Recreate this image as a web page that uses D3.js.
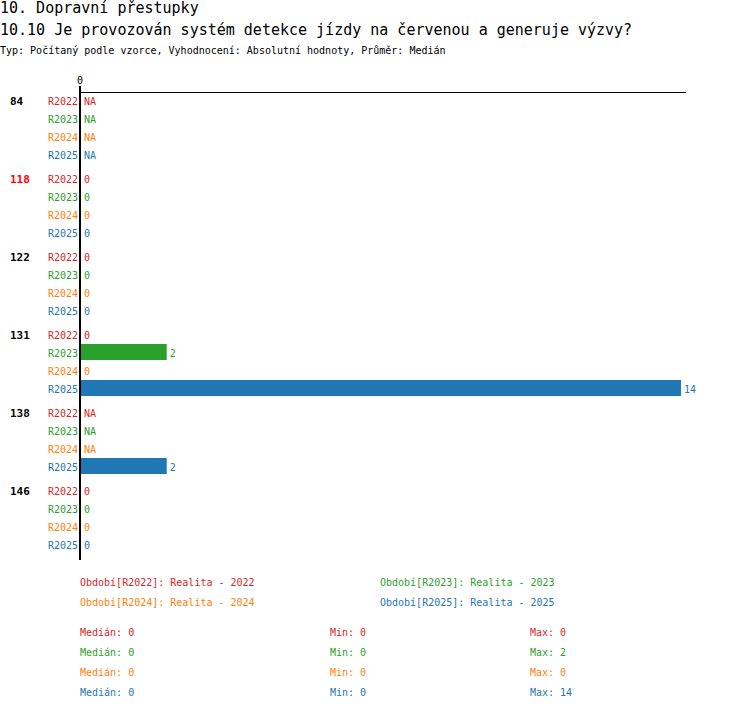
<!DOCTYPE html>
<html>
<head>
<meta charset="utf-8">
<script src="https://cdn.jsdelivr.net/npm/d3@7"></script>
<style>
  body { margin: 0; background: #fff; }
  svg { font-family: "DejaVu Sans Mono", "Liberation Mono", monospace; }
</style>
</head>
<body>
<div id="chart"></div>
<script>
const title = '10. Dopravní přestupky';
const subtitle = '10.10 Je provozován systém detekce jízdy na červenou a generuje výzvy?';
const info = 'Typ: Počítaný podle vzorce, Vyhodnocení: Absolutní hodnoty, Průměr: Medián';

const groups = ['84', '118', '122', '131', '138', '146'];
const highlighted = ['118'];
const periods = ['R2022', 'R2023', 'R2024', 'R2025'];
const periodNames = ['Realita - 2022', 'Realita - 2023', 'Realita - 2024', 'Realita - 2025'];
const colors = ['#d62728', '#2ca02c', '#ff7f0e', '#1f77b4'];

// values per group, in order of periods (null = NA)
const values = [
  [null, null, null, null],
  [0, 0, 0, 0],
  [0, 0, 0, 0],
  [0, 2, 0, 14],
  [null, null, null, 2],
  [0, 0, 0, 0]
];

const medians = [0, 0, 0, 0];
const mins = [0, 0, 0, 0];
const maxs = [0, 2, 0, 14];

const width = 750, height = 710;
const svg = d3.select('#chart').append('svg')
  .attr('width', width)
  .attr('height', height);

svg.append('text').attr('x', 0).attr('y', 13)
  .attr('font-size', 15).text(title);
svg.append('text').attr('x', 0).attr('y', 35)
  .attr('font-size', 15).text(subtitle);
svg.append('text').attr('x', 0).attr('y', 54)
  .attr('font-size', 10).text(info);

const x = d3.scaleLinear().domain([0, 14]).range([81, 681]);

const groupY = d3.scaleBand().domain(groups).range([92, 560]);
const rowY = d3.scaleBand().domain(periods).range([0, 70]).paddingInner(1 / 9);
const textDy = rowY.bandwidth() / 2 + 5;

// top axis
svg.append('line')
  .attr('x1', 80).attr('x2', 686).attr('y1', 92.5).attr('y2', 92.5)
  .attr('stroke', '#000').attr('stroke-width', 1);
svg.append('text').attr('x', x(0) - 1).attr('y', 84)
  .attr('font-size', 10).attr('text-anchor', 'middle').text('0');

const g = svg.selectAll('.group')
  .data(groups)
  .join('g')
    .attr('class', 'group')
    .attr('transform', d => `translate(0, ${groupY(d)})`);

g.append('text')
  .attr('x', 10)
  .attr('y', rowY('R2022') + textDy)
  .attr('font-size', 11)
  .attr('font-weight', 'bold')
  .attr('fill', d => highlighted.includes(d) ? '#ff0000' : '#000')
  .text(d => d);

const rows = g.selectAll('.row')
  .data((d, i) => periods.map((p, j) => ({ p, j, v: values[i][j] })))
  .join('g')
    .attr('class', 'row')
    .attr('transform', d => `translate(0, ${rowY(d.p)})`);

rows.append('text')
  .attr('x', 78)
  .attr('y', textDy)
  .attr('font-size', 10)
  .attr('text-anchor', 'end')
  .attr('fill', d => colors[d.j])
  .text(d => d.p);

rows.filter(d => d.v)
  .append('rect')
  .attr('x', x(0))
  .attr('y', 0)
  .attr('width', d => x(d.v) - x(0))
  .attr('height', rowY.bandwidth())
  .attr('fill', d => colors[d.j]);

rows.append('text')
  .attr('x', d => (d.v ? x(d.v) : x(0)) + 3)
  .attr('y', textDy)
  .attr('font-size', 10)
  .attr('fill', d => colors[d.j])
  .text(d => d.v === null ? 'NA' : d.v);

// vertical axis
svg.append('line')
  .attr('x1', 80).attr('x2', 80).attr('y1', 86).attr('y2', 560)
  .attr('stroke', '#000').attr('stroke-width', 2);

// legend
const legend = svg.append('g');
periods.forEach((p, i) => {
  legend.append('text')
    .attr('x', i % 2 === 0 ? 80 : 380)
    .attr('y', 586 + Math.floor(i / 2) * 20)
    .attr('font-size', 10)
    .attr('fill', colors[i])
    .text(`Období[${p}]: ${periodNames[i]}`);
});

periods.forEach((p, i) => {
  const yy = 636 + i * 20;
  legend.append('text').attr('x', 80).attr('y', yy).attr('font-size', 10)
    .attr('fill', colors[i]).text(`Medián: ${medians[i]}`);
  legend.append('text').attr('x', 330).attr('y', yy).attr('font-size', 10)
    .attr('fill', colors[i]).text(`Min: ${mins[i]}`);
  legend.append('text').attr('x', 530).attr('y', yy).attr('font-size', 10)
    .attr('fill', colors[i]).text(`Max: ${maxs[i]}`);
});
</script>
</body>
</html>
